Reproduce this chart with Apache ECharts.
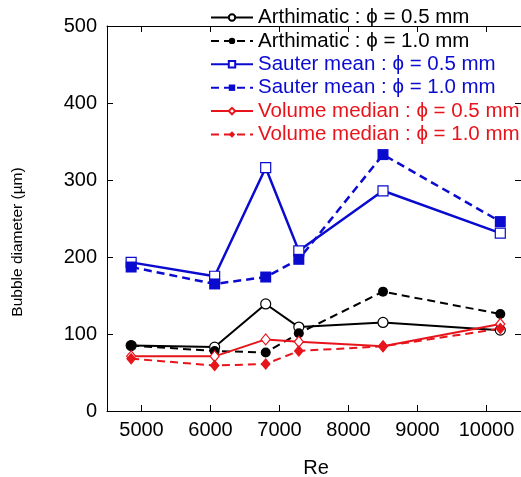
<!DOCTYPE html>
<html>
<head>
<meta charset="utf-8">
<script src="https://cdn.jsdelivr.net/npm/echarts@6/dist/echarts.min.js"></script>
<style>
  html, body { margin: 0; padding: 0; background: #fff; }
  #chart { width: 521px; height: 477px; }
</style>
</head>
<body>
<div id="chart"></div>
<script>
// Re values along x
const reValues = [4850, 6060, 6800, 7280, 8500, 10200];
// bubble diameters (um)
const arth05 = [85, 83, 139, 109, 115, 105];
const arth10 = [85, 78, 76, 101, 155, 126];
const sauter05 = [193, 175, 316, 208, 286, 231];
const sauter10 = [187, 165, 174, 197, 333, 246];
const vol05 = [71, 71, 93, 90, 84, 113];
const vol10 = [68, 59, 61, 78, 84, 107];
const yTicks = [0, 100, 200, 300, 400, 500];

const font = "'Liberation Sans', Arial, sans-serif";
const black = "#000000";
const blue = "#0b0bd0";
const red = "#e8141b";

function pts(vals) {
  return reValues.map((x, i) => [x, vals[i]]);
}

function makeSeries(name, vals, color, dashed, symbol, filled, size, width) {
  return {
    name: name,
    type: "line",
    data: pts(vals),
    symbol: symbol,
    symbolSize: size,
    showAllSymbol: true,
    lineStyle: { color: color, width: width, type: dashed ? [8, 5] : "solid" },
    itemStyle: {
      color: filled ? color : "#fff",
      borderColor: color,
      borderWidth: filled ? 0 : 1.2
    },
    emphasis: { disabled: true }
  };
}

const series = [
  makeSeries("Arthimatic : \u03d5 = 0.5 mm", arth05, black, false, "circle", false, 10, 2),
  makeSeries("Arthimatic : \u03d5 = 1.0 mm", arth10, black, true, "circle", true, 10, 2),
  makeSeries("Sauter mean : \u03d5 = 0.5 mm", sauter05, blue, false, "rect", false, 10, 2.5),
  makeSeries("Sauter mean : \u03d5 = 1.0 mm", sauter10, blue, true, "rect", true, 11, 2.5),
  makeSeries("Volume median : \u03d5 = 0.5 mm", vol05, red, false, "diamond", false, [9, 11], 2),
  makeSeries("Volume median : \u03d5 = 1.0 mm", vol10, red, true, "diamond", true, [10, 12], 2)
];

const legendColors = [black, black, blue, blue, red, red];

const chart = echarts.init(document.getElementById("chart"));
chart.setOption({
  animation: false,
  textStyle: { fontFamily: font },
  grid: { left: 107, top: 26, width: 415, height: 385 },
  legend: {
    orient: "vertical",
    left: 205,
    top: 2,
    itemWidth: 42,
    itemHeight: 8,
    itemGap: 2.4,
    data: series.map((s, i) => ({
      name: s.name,
      textStyle: { color: legendColors[i] }
    })),
    textStyle: { fontSize: 20.5, lineHeight: 20, fontFamily: font }
  },
  xAxis: [
    {
      type: "value",
      min: 4500,
      max: 10500,
      splitLine: { show: false },
      axisLine: { onZero: false, lineStyle: { color: black, width: 1 } },
      axisTick: { inside: true, length: 6, lineStyle: { color: black } },
      axisLabel: {
        color: black, fontSize: 20, margin: 9,
        showMinLabel: false, showMaxLabel: false,
        formatter: v => String(v)
      }
    },
    {
      type: "value",
      position: "top",
      min: 4500,
      max: 10500,
      splitLine: { show: false },
      axisLine: { onZero: false, lineStyle: { color: black, width: 1 } },
      axisTick: { inside: true, length: 6, lineStyle: { color: black } },
      axisLabel: { show: false }
    }
  ],
  yAxis: [
    {
      type: "value",
      min: yTicks[0],
      max: yTicks[yTicks.length - 1],
      interval: 100,
      splitLine: { show: false },
      axisLine: { show: true, onZero: false, lineStyle: { color: black, width: 1 } },
      axisTick: { show: true, inside: true, length: 6, lineStyle: { color: black } },
      axisLabel: { color: black, fontSize: 20, margin: 10 }
    },
    {
      type: "value",
      position: "right",
      min: yTicks[0],
      max: yTicks[yTicks.length - 1],
      interval: 100,
      splitLine: { show: false },
      axisLine: { show: true, onZero: false, lineStyle: { color: black, width: 1 } },
      axisTick: { show: true, inside: true, length: 6, lineStyle: { color: black } },
      axisLabel: { show: false }
    }
  ],
  graphic: [
    {
      type: "text",
      x: 18,
      y: 242,
      rotation: Math.PI / 2,
      style: {
        text: "Bubble diameter (\u00b5m)",
        fontSize: 15.5,
        fontFamily: font,
        fill: black,
        textAlign: "center",
        textVerticalAlign: "middle"
      }
    },
    {
      type: "text",
      x: 316,
      y: 468,
      style: {
        text: "Re",
        fontSize: 20,
        fontFamily: font,
        fill: black,
        textAlign: "center",
        textVerticalAlign: "middle"
      }
    }
  ],
  series: series
});
</script>
</body>
</html>
